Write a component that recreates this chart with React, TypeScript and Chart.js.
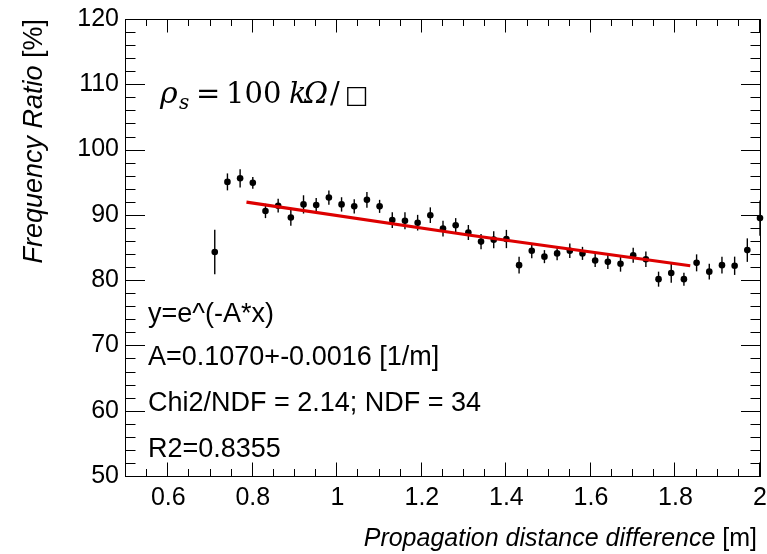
import React, { useEffect, useRef } from "react";
import { Chart, registerables } from "chart.js";

Chart.register(...registerables);

// ---- data ----
const xValues = [
  0.71, 0.74, 0.77, 0.8, 0.83, 0.86, 0.89, 0.92, 0.95, 0.98,
  1.01, 1.04, 1.07, 1.1, 1.13, 1.16, 1.19, 1.22, 1.25, 1.28,
  1.31, 1.34, 1.37, 1.4, 1.43, 1.46, 1.49, 1.52, 1.55, 1.58,
  1.61, 1.64, 1.67, 1.7, 1.73, 1.76, 1.79, 1.82, 1.85, 1.88,
  1.91, 1.94, 1.97, 2.0,
];
const ratioValues = [
  84.3, 95.05, 95.6, 94.9, 90.6, 91.4, 89.6, 91.6, 91.5, 92.65,
  91.6, 91.3, 92.3, 91.3, 89.2, 89.1, 88.8, 89.95, 87.9, 88.4,
  87.3, 85.9, 86.2, 86.3, 82.3, 84.5, 83.6, 84.1, 84.5, 84.1,
  83.0, 82.8, 82.5, 83.8, 83.2, 80.15, 81.1, 80.15, 82.65, 81.3,
  82.3, 82.2, 84.6, 89.5,
];
const ratioErrors = [
  3.4, 1.3, 1.4, 0.9, 1.1, 1.05, 1.25, 1.4, 1.1, 1.1,
  1.1, 1.1, 1.2, 1.0, 1.2, 1.3, 1.2, 1.2, 1.2, 1.1,
  1.15, 1.15, 1.3, 1.4, 1.3, 1.15, 1.0, 1.07, 1.1, 1.0,
  1.0, 1.1, 1.2, 1.15, 1.2, 1.15, 1.5, 1.0, 1.3, 1.2,
  1.3, 1.4, 1.8, 2.7,
];
const fitX = [0.785, 1.31, 1.835];
const fitY = [91.95, 86.92, 82.21];

const xTickValues = [0.6, 0.8, 1, 1.2, 1.4, 1.6, 1.8, 2];
const yTickValues = [50, 60, 70, 80, 90, 100, 110, 120];

const statLines = [
  "y=e^(-A*x)",
  "A=0.1070+-0.0016 [1/m]",
  "Chi2/NDF = 2.14; NDF = 34",
  "R2=0.8355",
];

const SANS = '"Liberation Sans", Arial, Helvetica, sans-serif';
const SERIF = '"DejaVu Serif", serif';

const rootPlugin = {
  id: "rootStyle",
  beforeDatasetsDraw(chart: any) {
    const { ctx, scales } = chart;
    const xs = scales.x;
    const ys = scales.y;
    ctx.save();
    ctx.strokeStyle = "#000";
    ctx.lineWidth = 1.4;
    for (let i = 0; i < xValues.length; i++) {
      const px = xs.getPixelForValue(xValues[i]);
      const y1 = ys.getPixelForValue(ratioValues[i] - ratioErrors[i]);
      const y2 = ys.getPixelForValue(ratioValues[i] + ratioErrors[i]);
      ctx.beginPath();
      ctx.moveTo(px, y1);
      ctx.lineTo(px, y2);
      ctx.stroke();
    }
    ctx.restore();
  },
  afterDraw(chart: any) {
    const { ctx, chartArea, scales } = chart;
    const { left, right, top, bottom } = chartArea;
    const xs = scales.x;
    const ys = scales.y;
    ctx.save();
    ctx.strokeStyle = "#000";
    ctx.lineWidth = 1;
    // frame
    ctx.strokeRect(left - 0.5, top + 0.5, right - left + 1, bottom - top);

    // x ticks (bottom & top)
    const xMajLen = 13.5;
    const xMinLen = 7;
    for (let i = 0; i <= 30; i++) {
      const v = 0.5 + i * 0.05;
      const major = Math.abs(v / 0.2 - Math.round(v / 0.2)) < 1e-6;
      const len = major ? xMajLen : xMinLen;
      const px = Math.round(xs.getPixelForValue(v)) - 0.5;
      ctx.beginPath();
      ctx.moveTo(px, bottom);
      ctx.lineTo(px, bottom - len);
      ctx.moveTo(px, top);
      ctx.lineTo(px, top + len);
      ctx.stroke();
    }
    // y ticks (left & right)
    const yMajLen = 19;
    const yMinLen = 9.5;
    for (let v = 50; v <= 120; v += 2) {
      const major = v % 10 === 0;
      const len = major ? yMajLen : yMinLen;
      const py = Math.round(ys.getPixelForValue(v)) + 0.5;
      ctx.beginPath();
      ctx.moveTo(left, py);
      ctx.lineTo(left + len, py);
      ctx.moveTo(right, py);
      ctx.lineTo(right - len, py);
      ctx.stroke();
    }

    ctx.fillStyle = "#000";
    ctx.textBaseline = "alphabetic";
    ctx.textAlign = "left";
    // x title
    const xt1 = "Propagation distance difference ";
    const xt2 = "[m]";
    ctx.font = `italic 25px ${SANS}`;
    const w1 = ctx.measureText(xt1).width;
    ctx.font = `25px ${SANS}`;
    const w2 = ctx.measureText(xt2).width;
    const xEnd = 757;
    ctx.font = `italic 25px ${SANS}`;
    ctx.fillText(xt1, xEnd - w1 - w2, 546);
    ctx.font = `25px ${SANS}`;
    ctx.fillText(xt2, xEnd - w2, 546);

    // y title (rotated)
    const yt1 = "Frequency Ratio ";
    const yt2 = "[%]";
    ctx.save();
    ctx.translate(42, 19);
    ctx.rotate(-Math.PI / 2);
    ctx.font = `italic 27px ${SANS}`;
    const v1 = ctx.measureText(yt1).width;
    ctx.font = `27px ${SANS}`;
    const v2 = ctx.measureText(yt2).width;
    ctx.font = `italic 27px ${SANS}`;
    ctx.fillText(yt1, -v1 - v2, 0);
    ctx.font = `27px ${SANS}`;
    ctx.fillText(yt2, -v2, 0);
    ctx.restore();

    // stats text
    ctx.font = `27px ${SANS}`;
    const baselines = [322, 365, 411, 457];
    statLines.forEach((t, i) => ctx.fillText(t, 148, baselines[i]));

    // formula rho_s = 100 kOhm / square
    const fb = 103;
    ctx.font = `italic 30px ${SERIF}`;
    ctx.fillText("ρ", 160, fb);
    ctx.font = `italic 20px ${SERIF}`;
    ctx.fillText("s", 179, fb + 6);
    ctx.font = `29px ${SERIF}`;
    ctx.fillText("=", 196, fb);
    ctx.fillText("100", 226, fb);
    ctx.font = `italic 29px ${SERIF}`;
    ctx.fillText("k", 289, fb);
    ctx.fillText("Ω", 304, fb);
    ctx.font = `29px ${SERIF}`;
    ctx.fillText("/", 330, fb);
    ctx.font = `25px ${SERIF}`;
    ctx.fillText("□", 345, fb);

    ctx.restore();
  },
};

export default function App() {
  const ref = useRef<HTMLCanvasElement | null>(null);
  useEffect(() => {
    if (!ref.current) return;
    const chart = new Chart(ref.current, {
      type: "scatter",
      data: {
        datasets: [
          {
            type: "line",
            label: "fit",
            data: fitX.map((x, i) => ({ x, y: fitY[i] })),
            borderColor: "#dd0000",
            borderWidth: 3.2,
            pointRadius: 0,
            tension: 0,
            fill: false,
          } as any,
          {
            label: "data",
            data: xValues.map((x, i) => ({ x, y: ratioValues[i] })),
            backgroundColor: "#000",
            borderColor: "#000",
            pointRadius: 3.3,
            pointBorderWidth: 0,
            clip: false,
          } as any,
        ],
      },
      options: {
        responsive: false,
        animation: false,
        layout: { padding: { top: 19, right: 7, left: 0, bottom: 0 } },
        plugins: {
          legend: { display: false },
          tooltip: { enabled: false },
          title: { display: false },
        },
        scales: {
          x: {
            type: "linear",
            min: 0.5,
            max: 2,
            grid: { display: false, drawTicks: false },
            border: { display: false },
            afterBuildTicks: (s: any) => {
              s.ticks = xTickValues.map((v) => ({ value: v }));
            },
            afterFit: (s: any) => {
              s.height = 78;
              s.paddingLeft = 0;
              s.paddingRight = 0;
            },
            ticks: {
              autoSkip: false,
              maxRotation: 0,
              padding: 7,
              color: "#000",
              font: { family: SANS, size: 25 },
              callback: (v: any) => String(Math.round(Number(v) * 10) / 10),
            },
          },
          y: {
            type: "linear",
            min: 50,
            max: 120,
            grid: { display: false, drawTicks: false },
            border: { display: false },
            afterBuildTicks: (s: any) => {
              s.ticks = yTickValues.map((v) => ({ value: v }));
            },
            afterFit: (s: any) => {
              s.width = 126;
              s.paddingTop = 0;
              s.paddingBottom = 0;
            },
            ticks: {
              autoSkip: false,
              padding: 7,
              color: "#000",
              font: { family: SANS, size: 25 },
              callback: (v: any) => String(v),
            },
          },
        },
      },
      plugins: [rootPlugin],
    });
    return () => chart.destroy();
  }, []);
  return (
    <div style={{ position: "fixed", left: 0, top: 0, width: 767, height: 554, background: "#fff" }}>
      <canvas ref={ref} width={767} height={554} style={{ width: 767, height: 554 }} />
    </div>
  );
}
